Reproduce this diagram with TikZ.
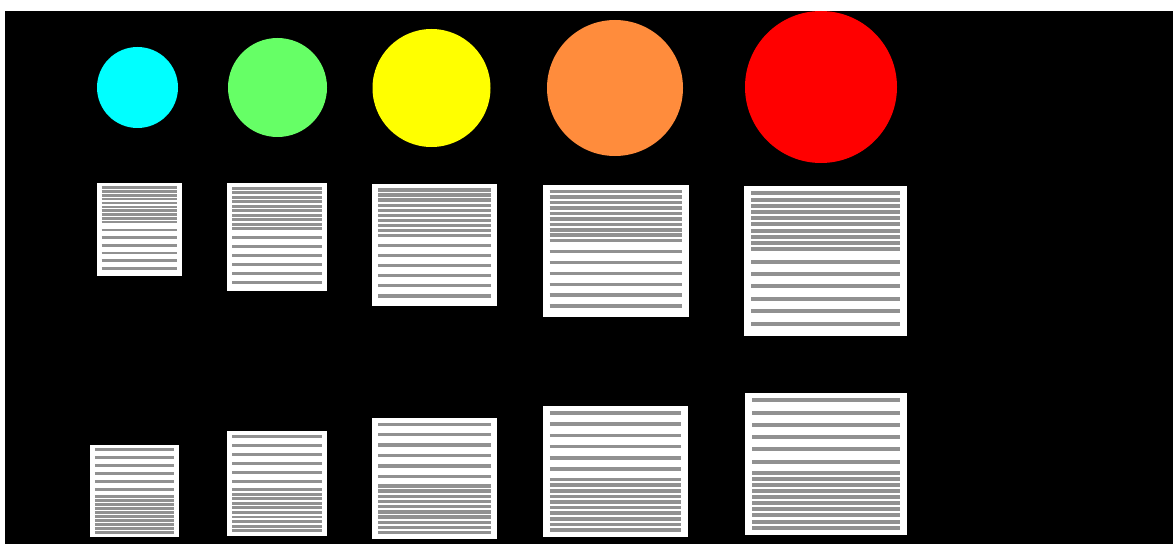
\documentclass[tikz,border=0pt]{standalone}
\usepackage{xcolor}
\usepackage{tikz}
\usetikzlibrary{calc}

\definecolor{dotcyan}{RGB}{0,255,255}
\definecolor{dotgreen}{RGB}{102,255,102}
\definecolor{dotyellow}{RGB}{255,255,0}
\definecolor{dotorange}{RGB}{255,140,60}
\definecolor{dotred}{RGB}{255,0,0}
\definecolor{stripegray}{RGB}{145,145,145}

\begin{document}
\begin{tikzpicture}[
    x=0.02cm, y=-0.02cm,
    disc/.style={circle, draw=none, inner sep=0pt, outer sep=0pt},
    page/.style={rectangle, draw=none, fill=white, inner sep=0pt, outer sep=0pt, anchor=north west},
    stripe/.style={draw=stripegray, line cap=butt}
]
% Canvas
\fill[white] (0,0) rectangle (1173,544);
\fill[black] (5,11) rectangle (1173,544);

% Discs (growing left to right)
\node[disc, fill=dotcyan,   minimum size=81*0.02cm]  (c1) at (137.5,87.5) {};
\node[disc, fill=dotgreen,  minimum size=99*0.02cm]  (c2) at (277.5,87.5) {};
\node[disc, fill=dotyellow, minimum size=118*0.02cm] (c3) at (431.5,88) {};
\node[disc, fill=dotorange, minimum size=136*0.02cm] (c4) at (615,88) {};
\node[disc, fill=dotred,    minimum size=152*0.02cm] (c5) at (821,87) {};

% Top row: dense lines first, then sparse lines
\foreach \bx/\x/\y/\w/\h in {t1/97/183/85/93, t2/227/183/100/108, t3/372/184/125/122, t4/543/185/146/132, t5/744/186/163/150} {
    \node[page, minimum width=\w*0.02cm, minimum height=\h*0.02cm] (\bx) at (\x,\y) {};
    \pgfmathsetmacro\s{\h/12.1}
    \pgfmathsetmacro\lw{0.0065*\s}
    \foreach \i in {0,...,9}
        \draw[stripe, line width=\lw cm] ($(\bx.north west)+(0.6*\s,0.6*\s+0.5*\s*\i)$) -- ($(\bx.north east)+(-0.6*\s,0.6*\s+0.5*\s*\i)$);
    \foreach \j in {0,...,5}
        \draw[stripe, line width=\lw cm] ($(\bx.north west)+(0.6*\s,6.1*\s+\s*\j)$) -- ($(\bx.north east)+(-0.6*\s,6.1*\s+\s*\j)$);
}

% Bottom row: sparse lines first, then dense lines
\foreach \bx/\x/\y/\w/\h in {b1/90/445/89/92, b2/227/431/100/105, b3/372/418/125/121, b4/543/406/145/131, b5/745/393/162/142} {
    \node[page, minimum width=\w*0.02cm, minimum height=\h*0.02cm] (\bx) at (\x,\y) {};
    \pgfmathsetmacro\s{\h/11.6}
    \pgfmathsetmacro\lw{0.0065*\s}
    \foreach \j in {0,...,5}
        \draw[stripe, line width=\lw cm] ($(\bx.north west)+(0.6*\s,0.6*\s+\s*\j)$) -- ($(\bx.north east)+(-0.6*\s,0.6*\s+\s*\j)$);
    \foreach \i in {0,...,9}
        \draw[stripe, line width=\lw cm] ($(\bx.north west)+(0.6*\s,6.5*\s+0.5*\s*\i)$) -- ($(\bx.north east)+(-0.6*\s,6.5*\s+0.5*\s*\i)$);
}
\end{tikzpicture}
\end{document}
